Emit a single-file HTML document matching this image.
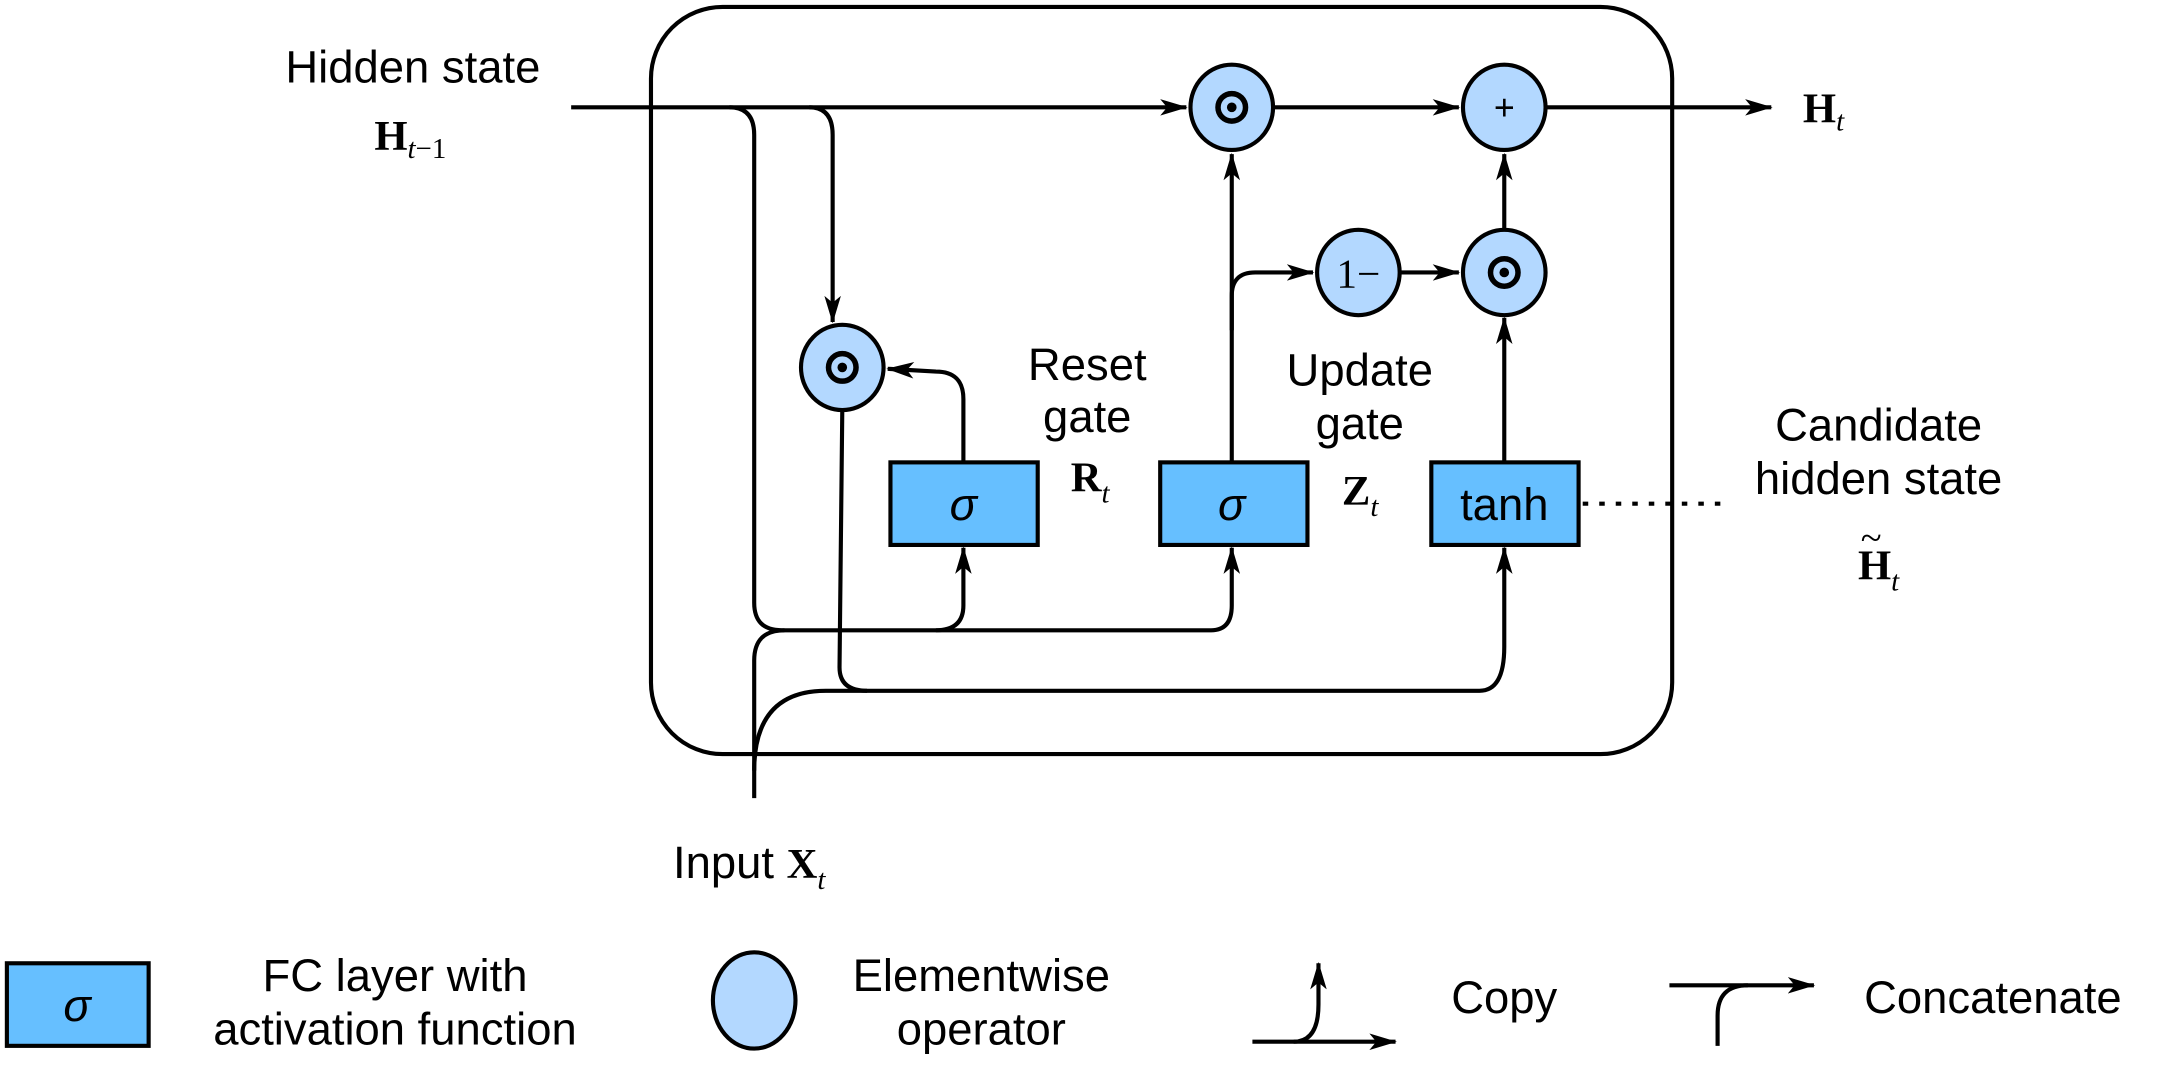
<!DOCTYPE html>
<html><head><meta charset="utf-8"><style>
html,body{margin:0;padding:0;background:#fff;}
svg{display:block;}
text{font-family:"Liberation Sans",sans-serif;font-size:33px;fill:#000;}
.m{font-family:"Liberation Serif",serif;font-weight:bold;font-size:31px;}
.s{font-family:"Liberation Serif",serif;font-style:italic;font-size:21px;font-weight:normal;}
</style></head><body>
<svg width="2158" height="1083" viewBox="0 0 1568 787" preserveAspectRatio="none" xmlns="http://www.w3.org/2000/svg">
<defs>
<marker id="a" viewBox="0 0 20 12" refX="19" refY="6" markerWidth="20" markerHeight="12" markerUnits="userSpaceOnUse" orient="auto">
<path d="M0,0 L20,6 L0,12 L5,6 Z" fill="#000"/></marker>
</defs>
<g fill="none" stroke="#000" stroke-width="3">
<rect x="473" y="5" width="742" height="543" rx="52"/>
<path d="M415,78 L862,78" marker-end="url(#a)"/>
<path d="M926,78 L1060,78" marker-end="url(#a)"/>
<path d="M1124,78 L1287,78" marker-end="url(#a)"/>
<path d="M530,78 Q548,78 548,98 L548,438 Q548,458 568,458 L880,458 Q895,458 895,440 L895,398" marker-end="url(#a)"/>
<path d="M680,458 Q700,458 700,440 L700,398" marker-end="url(#a)"/>
<path d="M588,78 Q605,78 605,98 L605,234" marker-end="url(#a)"/>
<path d="M612,298 L610,485 Q610,502 630,502"/>
<path d="M548,580 L548,480 Q548,458 570,458"/>
<path d="M548,560 Q548,502 600,502 L1075,502 Q1093,502 1093,470 L1093,398" marker-end="url(#a)"/>
<path d="M700,336 L700,290 Q700,270 680,270 L645,268" marker-end="url(#a)"/>
<path d="M895,336 L895,112" marker-end="url(#a)"/>
<path d="M895,240 L895,215 Q895,198 912,198 L954,198" marker-end="url(#a)"/>
<path d="M1018,198 L1060,198" marker-end="url(#a)"/>
<path d="M1093,167 L1093,112" marker-end="url(#a)"/>
<path d="M1093,336 L1093,231" marker-end="url(#a)"/>
<path d="M1150,366 L1250,366" stroke-dasharray="4,8"/>
</g>
<g stroke="#000" stroke-width="3" fill="#b3d8ff">
<ellipse cx="895" cy="78" rx="30" ry="31"/>
<ellipse cx="1093" cy="78" rx="30" ry="31"/>
<ellipse cx="1093" cy="198" rx="30" ry="31"/>
<ellipse cx="987" cy="198" rx="30" ry="31"/>
<ellipse cx="612" cy="267" rx="30" ry="31"/>
<ellipse cx="548" cy="727" rx="30" ry="35"/>
</g>
<g stroke="#000" stroke-width="3" fill="#66bfff">
<rect x="647" y="336" width="107" height="60"/>
<rect x="843" y="336" width="107" height="60"/>
<rect x="1040" y="336" width="107" height="60"/>
<rect x="5" y="700" width="103" height="60"/>
</g>
<g fill="none" stroke="#000" stroke-width="4">
<circle cx="895" cy="78" r="10"/><circle cx="1093" cy="198" r="10"/><circle cx="612" cy="267" r="10"/>
</g>
<g fill="#000"><circle cx="895" cy="78" r="3.5"/><circle cx="1093" cy="198" r="3.5"/><circle cx="612" cy="267" r="3.5"/></g>
<text x="1093" y="87" text-anchor="middle" style="font-size:26px">+</text>
<text x="987" y="209" text-anchor="middle" style="font-family:'Liberation Serif',serif;font-size:30px">1−</text>
<text x="700" y="378" text-anchor="middle" style="font-style:italic">σ</text>
<text x="895" y="378" text-anchor="middle" style="font-style:italic">σ</text>
<text x="1093" y="378" text-anchor="middle">tanh</text>
<text x="56" y="742" text-anchor="middle" style="font-style:italic">σ</text>
<text x="300" y="60" text-anchor="middle">Hidden state</text>
<text x="272" y="109" class="m">H<tspan class="s" dy="6">t</tspan><tspan class="s" style="font-style:normal">−1</tspan></text>
<text x="1310" y="89" class="m">H<tspan class="s" dy="6">t</tspan></text>
<text x="790" y="276" text-anchor="middle">Reset</text>
<text x="790" y="314" text-anchor="middle">gate</text>
<text x="778" y="357" class="m">R<tspan class="s" dy="8">t</tspan></text>
<text x="988" y="280" text-anchor="middle">Update</text>
<text x="988" y="319" text-anchor="middle">gate</text>
<text x="975" y="367" class="m">Z<tspan class="s" dy="8">t</tspan></text>
<text x="1365" y="320" text-anchor="middle">Candidate</text>
<text x="1365" y="359" text-anchor="middle">hidden state</text>
<text x="1350" y="421" class="m">H<tspan class="s" dy="8">t</tspan></text>
<text x="1352" y="400" style="font-family:'Liberation Serif',serif;font-size:28px">~</text>
<text x="489" y="638">Input <tspan class="m">X</tspan><tspan class="s" dy="8">t</tspan></text>
<text x="287" y="720" text-anchor="middle">FC layer with</text>
<text x="287" y="759" text-anchor="middle">activation function</text>
<text x="713" y="720" text-anchor="middle">Elementwise</text>
<text x="713" y="759" text-anchor="middle">operator</text>
<text x="1093" y="736" text-anchor="middle">Copy</text>
<text x="1448" y="736" text-anchor="middle">Concatenate</text>
<g fill="none" stroke="#000" stroke-width="3">
<path d="M910,757 L1014,757" marker-end="url(#a)"/>
<path d="M940,757 Q958,757 958,730 L958,700" marker-end="url(#a)"/>
<path d="M1213,716 L1318,716" marker-end="url(#a)"/>
<path d="M1248,760 L1248,738 Q1248,716 1270,716"/>
</g>
</svg>
</body></html>
